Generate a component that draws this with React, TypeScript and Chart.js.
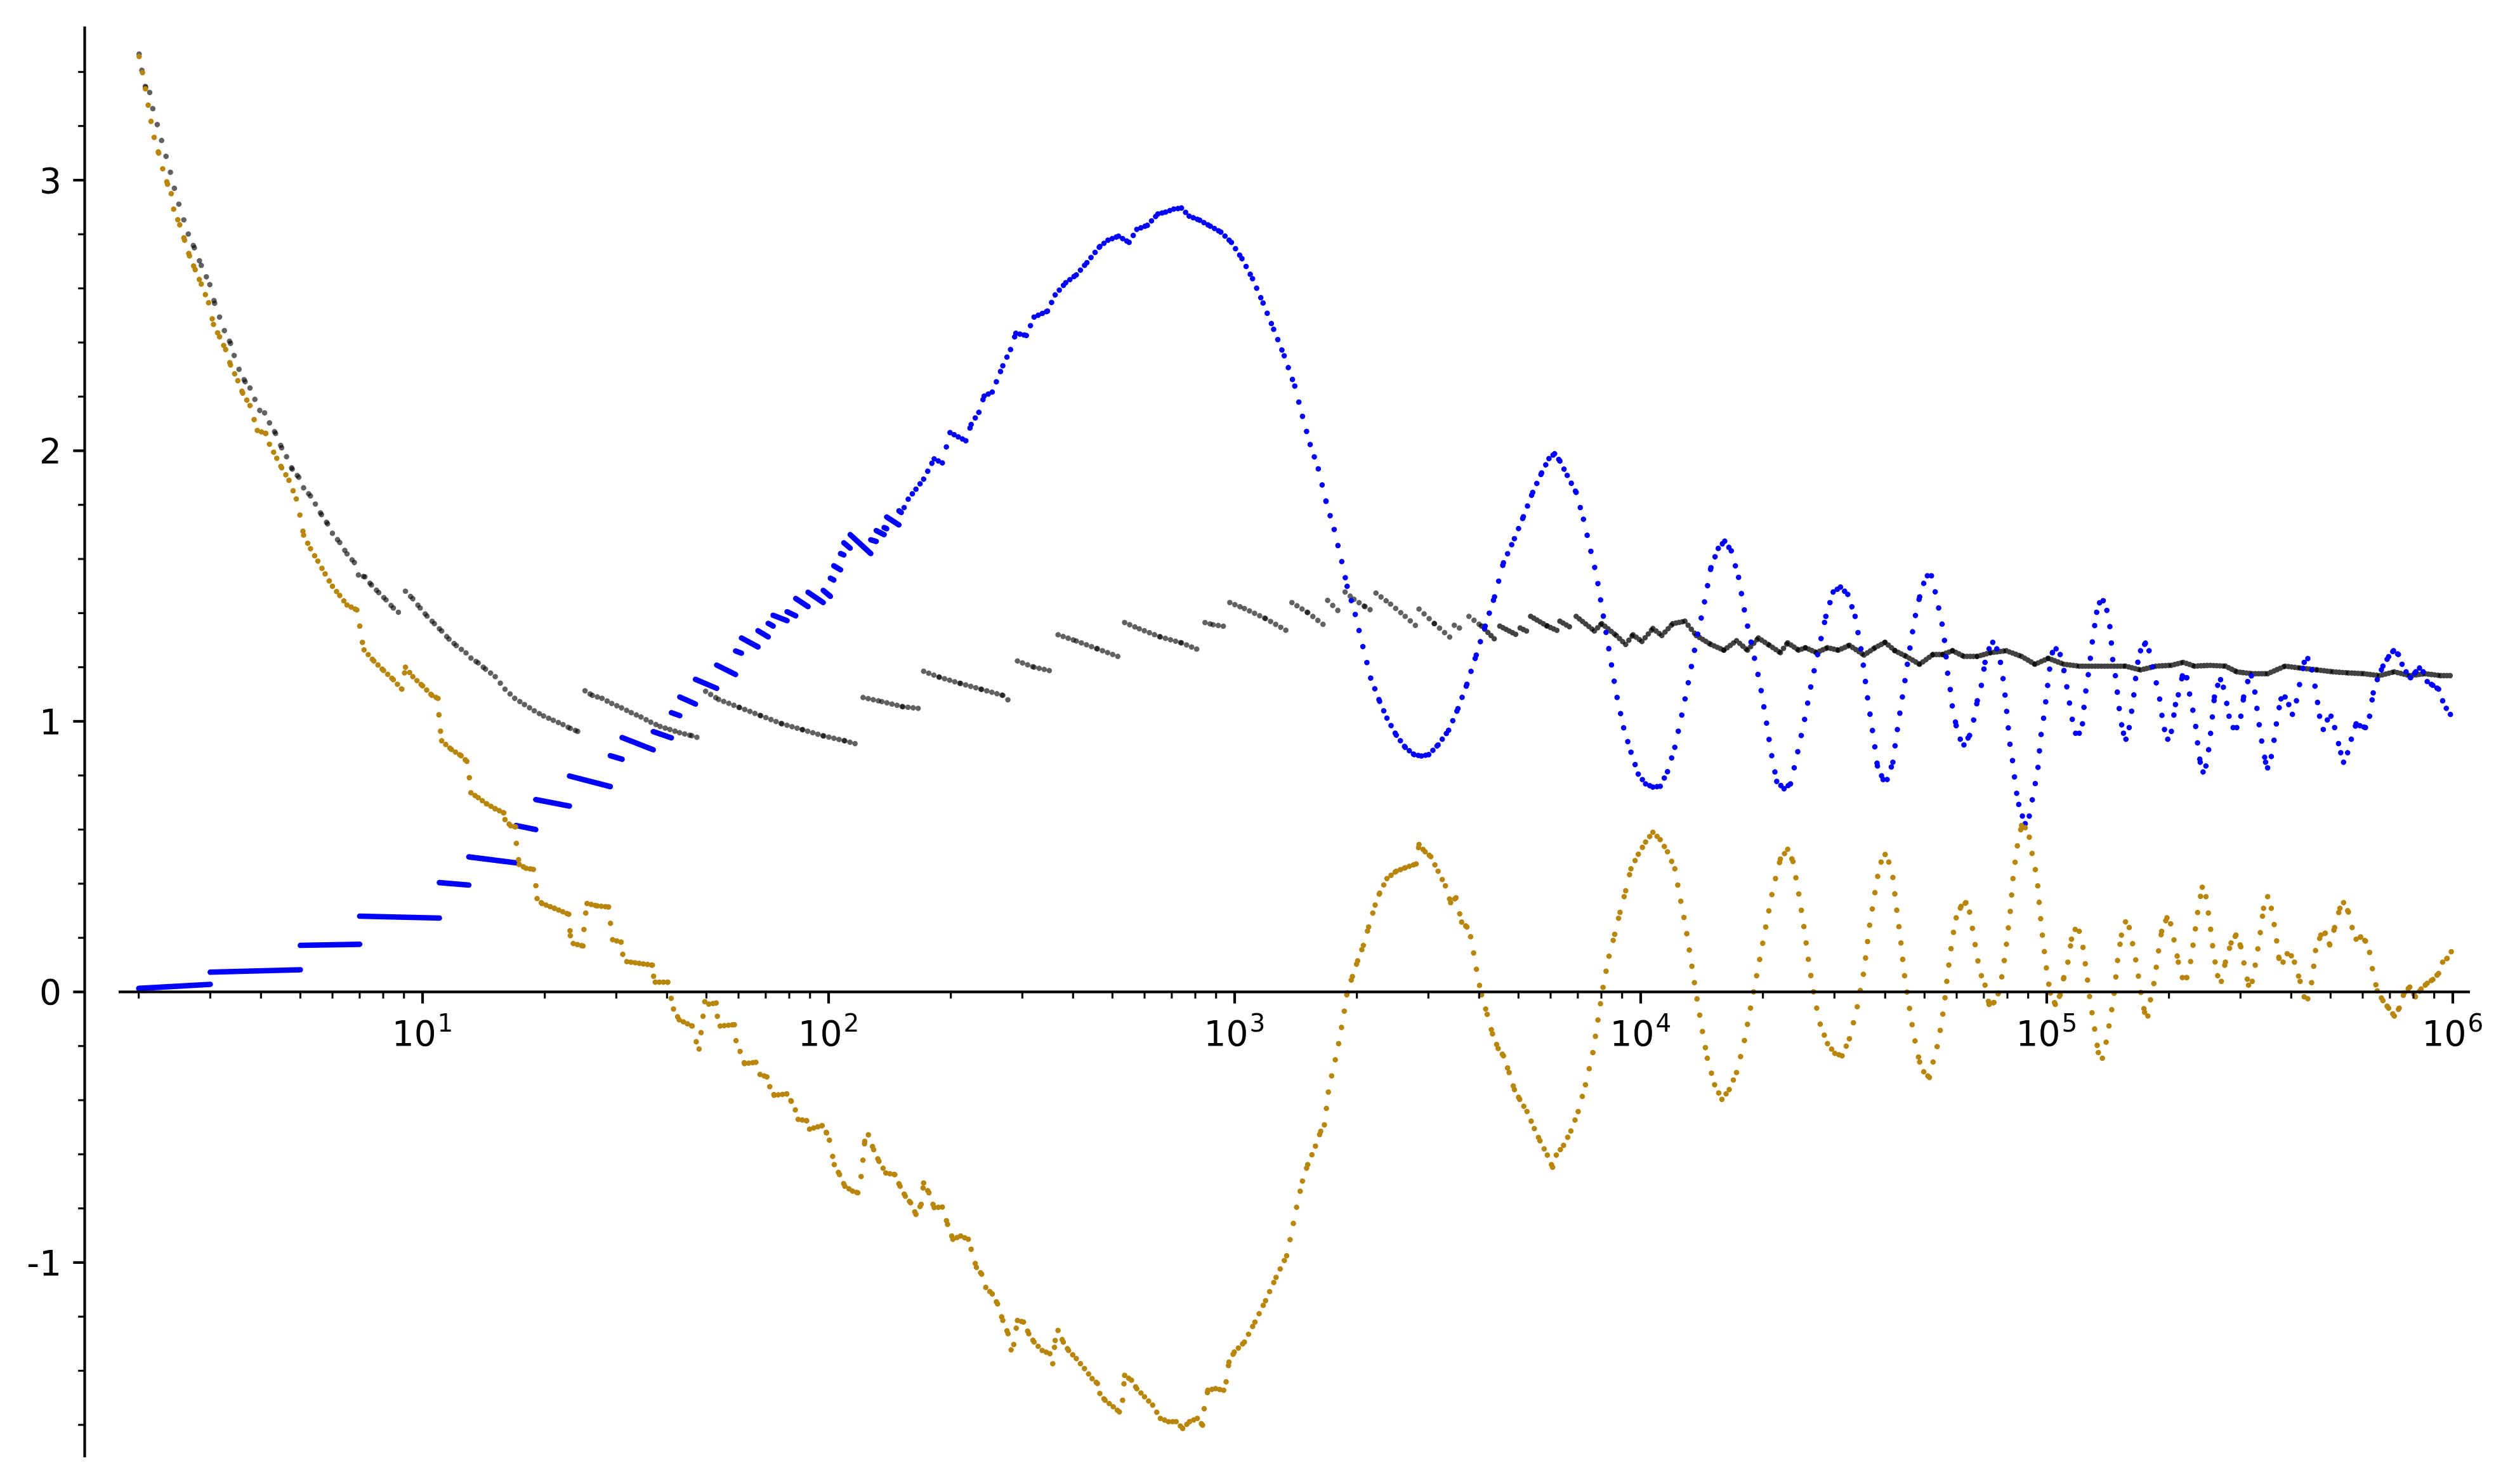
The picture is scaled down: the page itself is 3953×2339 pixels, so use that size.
import { useEffect, useRef } from "react";
import { Chart, registerables } from "chart.js";

Chart.register(...registerables);

const W = 3953;
const H = 2339;

// ---------------- data ----------------
// Axis limits (x is logarithmic; limits given as log10)
const xMinLog = 0.2515;
const xMaxLog = 6.0422;
const yMin = -1.72;
const yMax = 3.568;

// Tick labels
const xTickExponents = [1, 2, 3, 4, 5, 6];
const yTickValues = [-1, 0, 1, 2, 3];
const yTickLabels = ["-1", "0", "1", "2", "3"];

// Blue series, low range: constant-ish pieces between primes [x0, y0, x1, y1]
const blueSteps: [number, number, number, number][] = [
  [2, 0.013, 3, 0.028],
  [3, 0.073, 5, 0.082],
  [5, 0.172, 7, 0.176],
  [7, 0.28, 11, 0.273],
  [11, 0.404, 13, 0.395],
  [13, 0.499, 17, 0.477],
  [17, 0.615, 19, 0.6],
  [19, 0.711, 23, 0.687],
  [23, 0.798, 29, 0.759],
  [29, 0.873, 31, 0.86],
  [31, 0.94, 37, 0.895],
  [37, 0.962, 41, 0.939],
  [41, 1.032, 43, 1.021],
  [43, 1.09, 47, 1.064],
  [47, 1.155, 53, 1.122],
  [53, 1.208, 59, 1.173],
  [59, 1.26, 61, 1.252],
  [61, 1.308, 67, 1.275],
  [67, 1.335, 71, 1.312],
  [71, 1.362, 73, 1.352],
  [73, 1.392, 79, 1.372],
  [79, 1.405, 83, 1.39],
  [83, 1.454, 89, 1.424],
  [89, 1.477, 97, 1.439],
  [97, 1.484, 101, 1.462],
  [101, 1.529, 103, 1.522],
  [103, 1.575, 107, 1.56],
  [107, 1.62, 109, 1.615],
  [109, 1.66, 113, 1.64],
  [113, 1.69, 127, 1.62],
  [127, 1.671, 131, 1.665],
  [131, 1.705, 137, 1.69],
  [137, 1.716, 139, 1.712],
  [139, 1.755, 149, 1.726],
  [149, 1.778, 151, 1.772],
];

// Blue series, upper range: [log10(x), y]
const blueCurve: [number, number][] = [
  [2.186, 1.79], [2.196, 1.821], [2.215, 1.858], [2.234, 1.895], [2.26, 1.97], [2.28, 1.955],
  [2.299, 2.067], [2.338, 2.037], [2.351, 2.097], [2.37, 2.142], [2.383, 2.202], [2.403, 2.217],
  [2.429, 2.314], [2.448, 2.374], [2.461, 2.434], [2.487, 2.426], [2.506, 2.494], [2.539, 2.516],
  [2.558, 2.576], [2.584, 2.621], [2.61, 2.65], [2.636, 2.695], [2.668, 2.755], [2.688, 2.778],
  [2.714, 2.793], [2.74, 2.77], [2.759, 2.818], [2.785, 2.833], [2.811, 2.875], [2.83, 2.882],
  [2.85, 2.893], [2.869, 2.897], [2.888, 2.867], [2.914, 2.852], [2.94, 2.83], [2.966, 2.808],
  [2.992, 2.77], [3.018, 2.71], [3.044, 2.636], [3.07, 2.546], [3.096, 2.449], [3.122, 2.351],
  [3.148, 2.239], [3.167, 2.127], [3.186, 2.023], [3.206, 1.933], [3.225, 1.813], [3.245, 1.709],
  [3.264, 1.589], [3.277, 1.499], [3.297, 1.395], [3.316, 1.275], [3.335, 1.16], [3.357, 1.074],
  [3.375, 1.012], [3.398, 0.949], [3.42, 0.904], [3.442, 0.877], [3.46, 0.872], [3.478, 0.877],
  [3.501, 0.913], [3.527, 0.967], [3.55, 1.047], [3.572, 1.137], [3.595, 1.245], [3.617, 1.352],
  [3.64, 1.46], [3.662, 1.586], [3.689, 1.675], [3.711, 1.756], [3.734, 1.846], [3.756, 1.918],
  [3.774, 1.971], [3.788, 1.989], [3.801, 1.962], [3.819, 1.909], [3.841, 1.846], [3.859, 1.747],
  [3.877, 1.63], [3.891, 1.541], [3.904, 1.424], [3.922, 1.263], [3.94, 1.101], [3.958, 0.976],
  [3.976, 0.886], [3.994, 0.805], [4.012, 0.769], [4.03, 0.757], [4.048, 0.76], [4.066, 0.814],
  [4.084, 0.904], [4.102, 1.029], [4.12, 1.164], [4.137, 1.298], [4.155, 1.424], [4.173, 1.568],
  [4.191, 1.639], [4.207, 1.666], [4.223, 1.63], [4.241, 1.532], [4.258, 1.388], [4.276, 1.263],
  [4.294, 1.137], [4.308, 1.012], [4.321, 0.886], [4.335, 0.778], [4.353, 0.751], [4.369, 0.769],
  [4.384, 0.868], [4.402, 0.994], [4.42, 1.137], [4.438, 1.263], [4.456, 1.388], [4.474, 1.478],
  [4.492, 1.496], [4.51, 1.469], [4.528, 1.388], [4.545, 1.245], [4.559, 1.083], [4.574, 0.934],
  [4.583, 0.835], [4.597, 0.785], [4.607, 0.785], [4.621, 0.849], [4.63, 0.948], [4.64, 1.048],
  [4.649, 1.133], [4.659, 1.233], [4.668, 1.318], [4.678, 1.403], [4.687, 1.46], [4.697, 1.51],
  [4.706, 1.538], [4.716, 1.538], [4.725, 1.481], [4.734, 1.417], [4.744, 1.346], [4.749, 1.289],
  [4.756, 1.176], [4.763, 1.112], [4.768, 1.048], [4.777, 0.984], [4.787, 0.934], [4.796, 0.913],
  [4.81, 0.948], [4.82, 1.005], [4.829, 1.076], [4.839, 1.133], [4.848, 1.218], [4.858, 1.268],
  [4.867, 1.292], [4.877, 1.268], [4.886, 1.218], [4.895, 1.133], [4.902, 1.026], [4.91, 0.906],
  [4.916, 0.852], [4.924, 0.749], [4.931, 0.693], [4.94, 0.65], [4.947, 0.622], [4.957, 0.65],
  [4.964, 0.707], [4.971, 0.764], [4.978, 0.821], [4.985, 0.941], [4.993, 1.019], [4.999, 1.09],
  [5.006, 1.183], [5.014, 1.254], [5.023, 1.268], [5.033, 1.247], [5.042, 1.19], [5.052, 1.105],
  [5.061, 1.019], [5.071, 0.956], [5.08, 0.956], [5.088, 0.991], [5.094, 1.09], [5.104, 1.19],
  [5.113, 1.304], [5.123, 1.403], [5.13, 1.438], [5.139, 1.446], [5.148, 1.41], [5.156, 1.346],
  [5.163, 1.218], [5.17, 1.161], [5.175, 1.09], [5.182, 1.005], [5.189, 0.956], [5.195, 0.934],
  [5.203, 0.977], [5.213, 1.076], [5.222, 1.204], [5.231, 1.261], [5.243, 1.289], [5.252, 1.261],
  [5.26, 1.204], [5.269, 1.147], [5.276, 1.105], [5.284, 1.019], [5.29, 0.97], [5.298, 0.934],
  [5.307, 0.963], [5.317, 1.062], [5.324, 1.098], [5.334, 1.168], [5.345, 1.161], [5.353, 1.09],
  [5.359, 1.048], [5.366, 0.991], [5.373, 0.899], [5.378, 0.849], [5.385, 0.813], [5.392, 0.835],
  [5.4, 0.906], [5.407, 1.005], [5.413, 1.09], [5.421, 1.133], [5.428, 1.154], [5.435, 1.126],
  [5.442, 1.076], [5.449, 1.019], [5.459, 0.977], [5.468, 0.977], [5.478, 1.019], [5.485, 1.09],
  [5.495, 1.147], [5.504, 1.168], [5.513, 1.105], [5.52, 1.019], [5.53, 0.92], [5.539, 0.849],
  [5.544, 0.828], [5.553, 0.87], [5.561, 0.941], [5.568, 1.019], [5.577, 1.083], [5.587, 1.09],
  [5.596, 1.062], [5.605, 1.026], [5.615, 1.076], [5.624, 1.147], [5.634, 1.218], [5.643, 1.232],
  [5.653, 1.19], [5.662, 1.119], [5.672, 1.019], [5.681, 0.97], [5.691, 1.005], [5.7, 1.019],
  [5.709, 0.977], [5.716, 0.934], [5.724, 0.884], [5.731, 0.849], [5.741, 0.884], [5.75, 0.934],
  [5.762, 0.991], [5.771, 0.984], [5.785, 0.977], [5.795, 1.019], [5.804, 1.105], [5.814, 1.154],
  [5.828, 1.204], [5.842, 1.239], [5.854, 1.261], [5.866, 1.247], [5.875, 1.211], [5.885, 1.183],
  [5.896, 1.161], [5.909, 1.183], [5.918, 1.197], [5.927, 1.183], [5.937, 1.147], [5.951, 1.133],
  [5.965, 1.119], [5.975, 1.076], [5.984, 1.048], [5.998, 1.017],
];

// Gold series: [log10(x), y]
const goldCurve: [number, number][] = [
  [0.302, 3.457], [0.306, 3.429], [0.314, 3.369], [0.322, 3.296], [0.33, 3.227], [0.339, 3.158],
  [0.35, 3.1], [0.36, 3.042], [0.372, 2.985], [0.381, 2.95], [0.387, 2.893], [0.402, 2.835],
  [0.414, 2.778], [0.426, 2.72], [0.44, 2.669], [0.455, 2.616], [0.473, 2.547], [0.485, 2.467],
  [0.5, 2.421], [0.515, 2.374], [0.527, 2.317], [0.545, 2.259], [0.557, 2.213], [0.575, 2.167],
  [0.593, 2.075], [0.614, 2.064], [0.623, 2.024], [0.641, 1.972], [0.653, 1.937], [0.671, 1.891],
  [0.689, 1.822], [0.701, 1.741], [0.707, 1.688], [0.724, 1.638], [0.742, 1.592], [0.76, 1.545],
  [0.778, 1.499], [0.796, 1.465], [0.814, 1.43], [0.838, 1.412], [0.844, 1.366], [0.85, 1.304],
  [0.856, 1.264], [0.88, 1.223], [0.904, 1.188], [0.928, 1.154], [0.949, 1.119], [0.958, 1.2],
  [0.976, 1.165], [1.0, 1.131], [1.023, 1.096], [1.038, 1.085], [1.041, 1.004], [1.047, 0.928],
  [1.071, 0.896], [1.095, 0.873], [1.109, 0.852], [1.115, 0.794], [1.119, 0.736], [1.137, 0.718],
  [1.158, 0.695], [1.179, 0.677], [1.2, 0.662], [1.203, 0.637], [1.217, 0.614], [1.229, 0.61],
  [1.231, 0.547], [1.238, 0.471], [1.255, 0.457], [1.273, 0.453], [1.278, 0.408], [1.282, 0.345],
  [1.294, 0.327], [1.325, 0.309], [1.36, 0.287], [1.364, 0.208], [1.371, 0.179], [1.395, 0.17],
  [1.398, 0.247], [1.405, 0.327], [1.43, 0.318], [1.458, 0.314], [1.463, 0.251], [1.468, 0.193],
  [1.489, 0.184], [1.493, 0.139], [1.503, 0.112], [1.566, 0.099], [1.569, 0.058], [1.573, 0.036],
  [1.604, 0.036], [1.611, -0.014], [1.618, -0.063], [1.632, -0.103], [1.664, -0.126], [1.674, -0.184],
  [1.681, -0.211], [1.695, -0.036], [1.705, -0.045], [1.723, -0.041], [1.726, -0.09], [1.733, -0.126],
  [1.768, -0.121], [1.772, -0.18], [1.782, -0.22], [1.793, -0.265], [1.821, -0.26], [1.831, -0.305],
  [1.848, -0.314], [1.855, -0.35], [1.866, -0.382], [1.897, -0.377], [1.908, -0.404], [1.918, -0.436],
  [1.925, -0.471], [1.946, -0.476], [1.953, -0.507], [1.984, -0.494], [1.995, -0.521], [2.002, -0.548],
  [2.014, -0.638], [2.027, -0.675], [2.04, -0.718], [2.059, -0.736], [2.072, -0.742], [2.081, -0.675],
  [2.089, -0.552], [2.098, -0.528], [2.111, -0.583], [2.124, -0.626], [2.141, -0.669], [2.163, -0.675],
  [2.176, -0.718], [2.189, -0.755], [2.202, -0.779], [2.215, -0.822], [2.228, -0.785], [2.234, -0.706],
  [2.247, -0.742], [2.26, -0.797], [2.28, -0.795], [2.293, -0.859], [2.306, -0.914], [2.325, -0.902],
  [2.344, -0.914], [2.351, -0.951], [2.364, -1.018], [2.377, -1.043], [2.387, -1.092], [2.403, -1.116],
  [2.416, -1.153], [2.429, -1.214], [2.442, -1.263], [2.452, -1.343], [2.465, -1.214], [2.48, -1.22],
  [2.493, -1.263], [2.506, -1.294], [2.526, -1.325], [2.545, -1.337], [2.552, -1.374], [2.558, -1.288],
  [2.565, -1.251], [2.578, -1.294], [2.591, -1.325], [2.61, -1.355], [2.63, -1.392], [2.649, -1.429],
  [2.662, -1.447], [2.668, -1.484], [2.681, -1.509], [2.701, -1.533], [2.716, -1.552], [2.724, -1.509],
  [2.729, -1.417], [2.746, -1.435], [2.759, -1.466], [2.778, -1.496], [2.798, -1.527], [2.817, -1.576],
  [2.837, -1.588], [2.856, -1.588], [2.872, -1.613], [2.889, -1.588], [2.908, -1.576], [2.921, -1.601],
  [2.925, -1.539], [2.934, -1.472], [2.953, -1.466], [2.973, -1.472], [2.979, -1.441], [2.986, -1.368],
  [2.999, -1.331], [3.024, -1.294], [3.05, -1.22], [3.076, -1.141], [3.102, -1.055], [3.128, -0.975],
  [3.135, -0.926], [3.154, -0.785], [3.167, -0.699], [3.18, -0.638], [3.199, -0.57], [3.212, -0.515],
  [3.221, -0.491], [3.232, -0.356], [3.254, -0.209], [3.268, -0.09], [3.277, -0.003], [3.29, 0.057],
  [3.303, 0.115], [3.317, 0.172], [3.33, 0.24], [3.346, 0.321], [3.357, 0.365], [3.375, 0.419],
  [3.398, 0.446], [3.42, 0.459], [3.447, 0.473], [3.454, 0.545], [3.469, 0.518], [3.483, 0.5],
  [3.501, 0.446], [3.519, 0.392], [3.532, 0.33], [3.545, 0.348], [3.559, 0.258], [3.572, 0.24],
  [3.581, 0.204], [3.59, 0.132], [3.599, 0.052], [3.608, -0.011], [3.622, -0.083], [3.635, -0.155],
  [3.649, -0.209], [3.662, -0.236], [3.676, -0.298], [3.689, -0.361], [3.702, -0.397], [3.72, -0.442],
  [3.738, -0.505], [3.752, -0.55], [3.77, -0.603], [3.783, -0.648], [3.792, -0.603], [3.81, -0.567],
  [3.828, -0.514], [3.846, -0.442], [3.864, -0.343], [3.882, -0.227], [3.895, -0.101], [3.909, 0.034],
  [3.922, 0.132], [3.936, 0.213], [3.949, 0.294], [3.963, 0.374], [3.976, 0.455], [3.994, 0.509],
  [4.012, 0.554], [4.03, 0.59], [4.048, 0.563], [4.066, 0.518], [4.084, 0.455], [4.097, 0.348],
  [4.111, 0.24], [4.124, 0.114], [4.137, -0.011], [4.151, -0.137], [4.164, -0.245], [4.182, -0.343],
  [4.2, -0.397], [4.218, -0.361], [4.236, -0.298], [4.254, -0.191], [4.272, -0.047], [4.29, 0.096],
  [4.308, 0.24], [4.326, 0.383], [4.344, 0.491], [4.362, 0.527], [4.375, 0.482], [4.389, 0.365],
  [4.402, 0.24], [4.415, 0.096], [4.429, -0.029], [4.442, -0.119], [4.46, -0.191], [4.478, -0.227],
  [4.496, -0.236], [4.514, -0.173], [4.532, -0.065], [4.55, 0.078], [4.563, 0.24], [4.583, 0.423],
  [4.592, 0.48], [4.602, 0.508], [4.611, 0.48], [4.621, 0.423], [4.63, 0.309], [4.64, 0.195],
  [4.649, 0.068], [4.659, -0.032], [4.668, -0.117], [4.678, -0.202], [4.687, -0.259], [4.697, -0.295],
  [4.711, -0.316], [4.72, -0.259], [4.73, -0.202], [4.739, -0.131], [4.747, -0.053], [4.756, 0.068],
  [4.763, 0.146], [4.769, 0.21], [4.777, 0.274], [4.789, 0.316], [4.801, 0.33], [4.81, 0.295],
  [4.82, 0.21], [4.829, 0.124], [4.839, 0.06], [4.848, 0.025], [4.858, -0.046], [4.87, -0.039],
  [4.881, -0.004], [4.891, 0.068], [4.9, 0.167], [4.91, 0.295], [4.917, 0.423], [4.927, 0.536],
  [4.938, 0.615], [4.947, 0.607], [4.957, 0.572], [4.966, 0.494], [4.976, 0.423], [4.981, 0.337],
  [4.987, 0.238], [4.995, 0.139], [5.002, 0.053], [5.009, -0.004], [5.021, -0.046], [5.033, -0.011],
  [5.042, 0.053], [5.052, 0.11], [5.061, 0.195], [5.07, 0.231], [5.08, 0.224], [5.089, 0.167],
  [5.099, 0.06], [5.108, -0.046], [5.118, -0.138], [5.127, -0.224], [5.137, -0.245], [5.146, -0.188],
  [5.156, -0.103], [5.165, -0.018], [5.17, 0.053], [5.175, 0.124], [5.184, 0.21], [5.194, 0.259],
  [5.203, 0.238], [5.212, 0.174], [5.222, 0.096], [5.231, 0.004], [5.241, -0.075], [5.249, -0.089],
  [5.255, -0.032], [5.265, 0.039], [5.274, 0.139], [5.283, 0.224], [5.296, 0.274], [5.305, 0.252],
  [5.315, 0.181], [5.324, 0.11], [5.334, 0.053], [5.345, 0.053], [5.354, 0.11], [5.364, 0.21],
  [5.373, 0.309], [5.383, 0.387], [5.392, 0.352], [5.402, 0.252], [5.411, 0.139], [5.421, 0.06],
  [5.43, 0.039], [5.44, 0.11], [5.454, 0.181], [5.466, 0.21], [5.478, 0.167], [5.487, 0.096],
  [5.497, 0.025], [5.506, 0.039], [5.515, 0.11], [5.525, 0.21], [5.534, 0.309], [5.544, 0.352],
  [5.553, 0.309], [5.563, 0.224], [5.572, 0.124], [5.582, 0.11], [5.596, 0.153], [5.61, 0.11],
  [5.624, 0.039], [5.634, -0.018], [5.643, -0.025], [5.653, 0.039], [5.662, 0.153], [5.675, 0.21],
  [5.686, 0.217], [5.697, 0.174], [5.709, 0.238], [5.722, 0.309], [5.731, 0.33], [5.743, 0.295],
  [5.752, 0.238], [5.762, 0.195], [5.773, 0.203], [5.785, 0.188], [5.795, 0.146], [5.804, 0.068],
  [5.814, 0.004], [5.828, -0.032], [5.842, -0.06], [5.856, -0.089], [5.868, -0.06], [5.88, -0.004],
  [5.894, 0.018], [5.908, -0.018], [5.922, 0.011], [5.937, 0.032], [5.951, 0.046], [5.965, 0.068],
  [5.975, 0.11], [5.986, 0.124], [5.998, 0.153],
];

// Gray series: pieces between the upward jumps, [log10(x), y]
const grayPieces: [number, number][][] = [
  [
    [0.302, 3.466], [0.312, 3.376], [0.318, 3.342], [0.328, 3.324], [0.336, 3.261], [0.342, 3.227],
    [0.351, 3.185], [0.36, 3.13], [0.375, 3.054], [0.386, 2.985], [0.398, 2.92], [0.411, 2.858],
    [0.423, 2.801], [0.438, 2.75], [0.455, 2.685], [0.476, 2.614], [0.488, 2.545], [0.5, 2.494],
    [0.512, 2.444], [0.527, 2.397], [0.536, 2.352], [0.548, 2.301], [0.563, 2.255], [0.575, 2.232],
    [0.587, 2.19], [0.599, 2.149], [0.611, 2.14], [0.623, 2.103], [0.638, 2.064], [0.653, 2.011],
    [0.665, 1.978], [0.679, 1.932], [0.695, 1.902], [0.707, 1.863], [0.724, 1.833], [0.736, 1.803],
    [0.751, 1.764], [0.766, 1.73], [0.778, 1.695], [0.796, 1.661], [0.814, 1.619], [0.832, 1.587],
    [0.842, 1.541], [0.858, 1.534], [0.874, 1.504], [0.892, 1.476], [0.91, 1.449], [0.928, 1.419],
    [0.946, 1.396],
  ],
  [
    [0.958, 1.481], [0.976, 1.453], [0.994, 1.419], [1.011, 1.389], [1.029, 1.361], [1.047, 1.334],
    [1.065, 1.304], [1.083, 1.28], [1.107, 1.253], [1.119, 1.234], [1.137, 1.216], [1.155, 1.193],
    [1.179, 1.165], [1.203, 1.119], [1.227, 1.085], [1.251, 1.062], [1.275, 1.039], [1.298, 1.02],
    [1.322, 1.004], [1.346, 0.988], [1.364, 0.974], [1.382, 0.963], [1.394, 0.958],
  ],
  [
    [1.4, 1.113], [1.418, 1.096], [1.442, 1.085], [1.466, 1.066], [1.49, 1.05], [1.514, 1.032],
    [1.538, 1.016], [1.562, 0.997], [1.585, 0.981], [1.609, 0.97], [1.633, 0.958], [1.663, 0.947],
    [1.684, 0.937],
  ],
  [
    [1.697, 1.111], [1.729, 1.081], [1.781, 1.051], [1.833, 1.021], [1.885, 0.991], [1.936, 0.969],
    [1.988, 0.946], [2.04, 0.928], [2.076, 0.913],
  ],
  [[2.085, 1.088], [2.131, 1.073], [2.183, 1.054], [2.221, 1.048]],
  [[2.234, 1.185], [2.273, 1.163], [2.325, 1.14], [2.377, 1.118], [2.429, 1.096], [2.452, 1.066]],
  [[2.465, 1.223], [2.506, 1.2], [2.552, 1.185]],
  [[2.565, 1.32], [2.61, 1.297], [2.662, 1.268], [2.716, 1.238]],
  [[2.729, 1.365], [2.765, 1.342], [2.817, 1.312], [2.869, 1.29], [2.918, 1.26]],
  [[2.927, 1.365], [2.947, 1.357], [2.979, 1.35]],
  [[2.988, 1.439], [3.024, 1.417], [3.076, 1.38], [3.128, 1.335]],
  [[3.141, 1.439], [3.18, 1.402], [3.219, 1.357]],
  [[3.229, 1.447], [3.258, 1.404]],
  [[3.272, 1.478], [3.294, 1.451], [3.321, 1.424], [3.341, 1.406]],
  [[3.348, 1.474], [3.384, 1.433], [3.42, 1.388], [3.447, 1.352]],
  [[3.454, 1.415], [3.492, 1.361], [3.532, 1.308]],
  [[3.541, 1.355], [3.566, 1.335]],
  [[3.577, 1.388], [3.608, 1.352], [3.644, 1.298]],
  [[3.653, 1.352], [3.698, 1.317]],
  [[3.703, 1.345], [3.724, 1.33]],
  [[3.729, 1.388], [3.77, 1.352], [3.797, 1.334]],
  [[3.801, 1.37], [3.832, 1.343]],
  [
    [3.841, 1.388], [3.886, 1.334], [3.904, 1.361], [3.94, 1.317], [3.963, 1.284], [3.981, 1.32],
    [4.003, 1.295], [4.03, 1.343], [4.052, 1.317], [4.079, 1.361], [4.109, 1.37], [4.137, 1.317],
    [4.173, 1.284], [4.205, 1.263], [4.236, 1.298], [4.263, 1.263], [4.29, 1.308], [4.317, 1.281],
    [4.344, 1.254], [4.362, 1.29], [4.389, 1.263], [4.406, 1.272], [4.433, 1.254], [4.46, 1.272],
    [4.487, 1.263], [4.514, 1.281], [4.55, 1.245], [4.577, 1.272], [4.602, 1.292], [4.626, 1.261],
    [4.654, 1.24], [4.687, 1.211], [4.72, 1.247], [4.744, 1.247], [4.768, 1.261], [4.796, 1.24],
    [4.829, 1.24], [4.862, 1.254], [4.9, 1.261], [4.938, 1.24], [4.971, 1.211], [5.004, 1.233],
    [5.042, 1.211], [5.08, 1.204], [5.118, 1.204], [5.156, 1.204], [5.194, 1.204], [5.231, 1.19],
    [5.269, 1.204], [5.307, 1.207], [5.336, 1.218], [5.364, 1.204], [5.402, 1.207], [5.44, 1.204],
    [5.468, 1.183], [5.506, 1.176], [5.544, 1.176], [5.587, 1.204], [5.624, 1.197], [5.667, 1.19],
    [5.705, 1.183], [5.743, 1.179], [5.781, 1.176], [5.819, 1.169], [5.856, 1.183], [5.894, 1.169],
    [5.932, 1.176], [5.97, 1.169], [5.998, 1.169],
  ],
];

// ---------------- styles ----------------
const BLUE = "#0000ff";
const GOLD = "#b8860b";
const FONT = '"DejaVu Sans", sans-serif';
const DOT = 8.6;
const TICK_MAJOR = 18.2;
const TICK_MINOR = 10.4;
const TICK_PAD = 18.2;
const AXIS_LW = 4.2;
const MINOR_LW = 3.1;
const Y_SPINE_OFFSET = 53.5;
const LABEL_PX = 55;
const SUP_PX = 39;

type Pt = { x: number; y: number | null };

function fromLog(pts: [number, number][]): Pt[] {
  return pts.map(([lx, y]) => ({ x: Math.pow(10, lx), y }));
}

function stepsData(): Pt[] {
  const out: Pt[] = [];
  blueSteps.forEach(([x0, y0, x1, y1], i) => {
    if (i > 0) out.push({ x: x0, y: null });
    out.push({ x: x0, y: y0 }, { x: x1, y: y1 });
  });
  return out;
}

function grayData(): Pt[] {
  const out: Pt[] = [];
  grayPieces.forEach((piece, i) => {
    if (i > 0) out.push({ x: Math.pow(10, piece[0][0]), y: null });
    out.push(...fromLog(piece));
  });
  return out;
}

// marker spacing along a segment, mimicking markers placed at an even horizontal step
function markerPeriod(c: any, step: number): number {
  const dx = Math.abs(c.p1.x - c.p0.x);
  const dy = Math.abs(c.p1.y - c.p0.y);
  const len = Math.hypot(dx, dy);
  const p = dx > 0.01 ? (step * len) / dx : 24;
  return Math.min(26, Math.max(step, p));
}
const markerDash = (step: number) => (c: any) => [0.001, markerPeriod(c, step)];

const axesPlugin = {
  id: "sageAxes",
  afterDatasetsDraw(chart: any) {
    const { ctx, chartArea: a } = chart;
    const xs = chart.scales.x;
    const ys = chart.scales.y;
    const y0 = ys.getPixelForValue(0);
    const sx = a.left - Y_SPINE_OFFSET;
    const seg = (x1: number, y1: number, x2: number, y2: number) => {
      ctx.beginPath();
      ctx.moveTo(x1, y1);
      ctx.lineTo(x2, y2);
      ctx.stroke();
    };
    ctx.save();
    ctx.setLineDash([]);
    ctx.strokeStyle = "#000";
    ctx.fillStyle = "#000";
    ctx.lineCap = "butt";

    // spines
    ctx.lineWidth = AXIS_LW;
    seg(a.left, y0, a.right, y0);
    seg(sx, a.top, sx, a.bottom);

    // x ticks
    const lo = Math.pow(10, xMinLog);
    const hi = Math.pow(10, xMaxLog);
    for (let k = 0; k <= 6; k++) {
      for (let m = 1; m <= 9; m++) {
        const v = m * Math.pow(10, k);
        if (v < lo || v > hi) continue;
        const px = xs.getPixelForValue(v);
        if (m === 1) {
          ctx.lineWidth = AXIS_LW;
          seg(px, y0, px, y0 + TICK_MAJOR);
        } else {
          ctx.lineWidth = MINOR_LW;
          seg(px, y0, px, y0 + TICK_MINOR);
        }
      }
    }

    // y ticks
    for (let i = Math.ceil(yMin * 5); i <= Math.floor(yMax * 5); i++) {
      const v = i / 5;
      const py = ys.getPixelForValue(v);
      if (i % 5 === 0) {
        ctx.lineWidth = AXIS_LW;
        seg(sx, py, sx - TICK_MAJOR, py);
      } else {
        ctx.lineWidth = MINOR_LW;
        seg(sx, py, sx - TICK_MINOR, py);
      }
    }

    // x labels 10^k
    ctx.textBaseline = "alphabetic";
    ctx.textAlign = "left";
    const mainFont = `${LABEL_PX}px ${FONT}`;
    const supFont = `${SUP_PX}px ${FONT}`;
    xTickExponents.forEach((e) => {
      const px = xs.getPixelForValue(Math.pow(10, e));
      ctx.font = mainFont;
      const wb = ctx.measureText("10").width;
      ctx.font = supFont;
      const es = String(e);
      const ws = ctx.measureText(es).width;
      const gap = 2;
      const start = px - (wb + gap + ws) / 2;
      ctx.font = mainFont;
      ctx.fillText("10", start, y0 + 84.5);
      ctx.font = supFont;
      ctx.fillText(es, start + wb + gap, y0 + 62.5);
    });

    // y labels
    ctx.font = mainFont;
    ctx.textAlign = "right";
    yTickValues.forEach((v, i) => {
      const py = ys.getPixelForValue(v);
      ctx.fillText(yTickLabels[i], sx - TICK_MAJOR - TICK_PAD, py + 0.3645 * LABEL_PX);
    });
    ctx.restore();
  },
};

export default function App() {
  const ref = useRef<HTMLCanvasElement | null>(null);

  useEffect(() => {
    const canvas = ref.current;
    if (!canvas) return;
    const grayDark = Math.pow(10, 3.6);
    const common = {
      borderWidth: DOT,
      borderCapStyle: "round",
      borderJoinStyle: "round",
      pointRadius: 0,
      fill: false,
      spanGaps: false,
      tension: 0,
    };
    const dashColored = markerDash(6.5);
    const dashGrayLow = markerDash(8);
    const dashGrayHigh = markerDash(5);
    const chart = new Chart(canvas, {
      type: "line",
      data: {
        datasets: [
          {
            ...common,
            label: "gold",
            data: fromLog(goldCurve),
            borderColor: GOLD,
            order: 0,
            segment: { borderDash: dashColored },
          } as any,
          {
            ...common,
            label: "blue steps",
            data: stepsData(),
            borderColor: BLUE,
            order: 1,
          } as any,
          {
            ...common,
            label: "blue",
            data: fromLog(blueCurve),
            borderColor: BLUE,
            order: 1,
            segment: { borderDash: dashColored },
          } as any,
          {
            ...common,
            label: "gray",
            data: grayData(),
            borderColor: "rgba(0,0,0,0.62)",
            order: 2,
            segment: {
              borderColor: (c: any) => (c.p0.parsed.x > grayDark ? "rgba(0,0,0,0.74)" : "rgba(0,0,0,0.62)"),
              borderDash: (c: any) => (c.p0.parsed.x > grayDark ? dashGrayHigh(c) : dashGrayLow(c)),
            },
          } as any,
        ],
      },
      options: {
        responsive: false,
        maintainAspectRatio: false,
        animation: false,
        devicePixelRatio: 1,
        events: [],
        layout: { padding: { left: 187, right: W - 3893, top: 41.7, bottom: H - 2297 } },
        plugins: { legend: { display: false }, tooltip: { enabled: false } },
        scales: {
          x: {
            type: "logarithmic",
            min: Math.pow(10, xMinLog),
            max: Math.pow(10, xMaxLog),
            display: false,
          },
          y: { type: "linear", min: yMin, max: yMax, display: false },
        },
      },
      plugins: [axesPlugin],
    });
    return () => chart.destroy();
  }, []);

  return (
    <div style={{ position: "fixed", left: 0, top: 0, width: W, height: H, background: "#fff" }}>
      <canvas ref={ref} width={W} height={H} style={{ width: W, height: H, display: "block" }} />
    </div>
  );
}
